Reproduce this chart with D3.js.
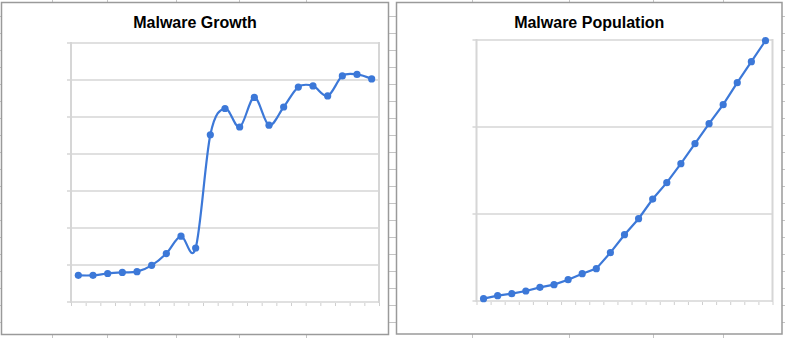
<!DOCTYPE html>
<html><head><meta charset="utf-8">
<script src="https://cdn.jsdelivr.net/npm/d3@7"></script>
<style>
html,body{margin:0;padding:0;background:#fff;}
svg{display:block;}
text{font-family:"Liberation Sans",Arial,sans-serif;}
</style></head>
<body>
<svg id="chart" width="785" height="338"></svg>
<script>
// ---- data ----
const periods = [1,2,3,4,5,6,7,8,9,10,11,12,13,14,15,16,17,18,19,20,21];
const growthValues = [7.2,7.2,7.7,8.0,8.2,9.9,13.1,17.8,14.6,45.2,52.3,47.3,55.3,47.8,52.7,58.1,58.4,55.7,61.1,61.5,60.3];
const populationValues = [0.27,0.61,0.84,1.15,1.57,1.88,2.45,3.14,3.72,5.56,7.62,9.46,11.72,13.60,15.79,18.08,20.38,22.57,25.10,27.51,29.92];
const growthTicks = [0,10,20,30,40,50,60,70];
const populationTicks = [0,10,20,30];
const titles = ["Malware Growth","Malware Population"];

// spreadsheet background grid
const sheetRows = d3.range(16, 338, 17);
const sheetCols = [52,107,176,239,306,472,569,653,723];

const svg = d3.select("#chart");
svg.append("rect").attr("width",785).attr("height",338).attr("fill","#fff");

const bg = svg.append("g");
bg.selectAll("line.r").data(sheetRows).join("line")
  .attr("x1",0).attr("x2",785).attr("y1",d=>d+0.5).attr("y2",d=>d+0.5)
  .attr("stroke","#c4c4c4").attr("stroke-width",1);
bg.selectAll("line.c").data(sheetCols).join("line")
  .attr("x1",d=>d+0.5).attr("x2",d=>d+0.5).attr("y1",0).attr("y2",338)
  .attr("stroke","#c4c4c4").attr("stroke-width",1);

const blue = "#3c78d8";

function drawChart(cfg){
  const g = svg.append("g");
  // box
  g.append("rect").attr("x",cfg.box[0]).attr("y",cfg.box[1])
    .attr("width",cfg.box[2]).attr("height",cfg.box[3])
    .attr("fill","#fff").attr("stroke","#9a9a9a").attr("stroke-width",1.5);
  // title
  g.append("text").attr("x",cfg.box[0]+cfg.box[2]/2).attr("y",27.5)
    .attr("text-anchor","middle").attr("font-size",16).attr("font-weight","bold")
    .attr("fill","#000").text(cfg.title);

  const [x0,x1,yTop,yBot] = cfg.plot;
  const x = d3.scaleBand().domain(periods).range([x0,x1]).padding(0);
  const y = d3.scaleLinear().domain([0,d3.max(cfg.ticks)]).range([yBot,yTop]);

  // gridlines
  g.selectAll("line.grid").data(cfg.ticks).join("line")
    .attr("x1",x0-4).attr("x2",x1).attr("y1",d=>y(d)).attr("y2",d=>y(d))
    .attr("stroke","#e0e0e0").attr("stroke-width",2);
  // frame verticals
  [x0,x1].forEach(xv=>{
    g.append("line").attr("x1",xv).attr("x2",xv).attr("y1",yTop-1).attr("y2",yBot+1)
      .attr("stroke","#d6d6d6").attr("stroke-width",2);
  });
  // x ticks at band boundaries
  const xl = d3.scaleLinear().domain([0,periods.length]).range([x0,x1]);
  const ax = g.append("g").attr("transform",`translate(0,${yBot+1})`)
    .call(d3.axisBottom(xl).tickValues(d3.range(0,periods.length+1)).tickFormat("").tickSize(3).tickSizeOuter(0));
  ax.select(".domain").remove();
  ax.selectAll(".tick line").attr("stroke","#cfcfcf");

  const pts = periods.map((p,i)=>[x(p)+x.bandwidth()/2, y(cfg.values[i])]);
  g.append("path").attr("d", d3.line().curve(cfg.curve)(pts))
    .attr("fill","none").attr("stroke",blue).attr("stroke-width",2.2);
  g.selectAll("circle").data(pts).join("circle")
    .attr("cx",d=>d[0]).attr("cy",d=>d[1]).attr("r",3.6).attr("fill",blue);
}

drawChart({
  box:[1.5,2.5,387,332], title:titles[0],
  plot:[71,379,43,302], ticks:growthTicks, values:growthValues,
  curve:d3.curveCardinal.tension(0)
});
drawChart({
  box:[396.5,2.5,385.5,331.5], title:titles[1],
  plot:[476.5,772.5,40,301], ticks:populationTicks, values:populationValues,
  curve:d3.curveLinear
});
</script>
</body></html>
